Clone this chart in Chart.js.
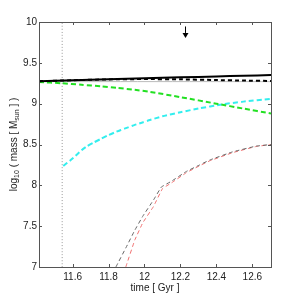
<!DOCTYPE html>
<html>
<head>
<meta charset="utf-8">
<script src="https://cdn.jsdelivr.net/npm/chart.js@4/dist/chart.umd.min.js"></script>
<style>
  body { margin: 0; background: #fff; }
</style>
</head>
<body>
<canvas id="mass-canvas" width="300" height="300"></canvas>
<script>
const xTicks = [11.6, 11.8, 12, 12.2, 12.4, 12.6];
const yTicks = [7, 7.5, 8, 8.5, 9, 9.5, 10];

const blackT = [11.413, 11.6, 11.8, 12.0, 12.2, 12.4, 12.55, 12.704];
const blackSolid = [9.275, 9.287, 9.298, 9.31, 9.322, 9.333, 9.342, 9.35];
const blackDashed = [9.275, 9.287, 9.297, 9.301, 9.298, 9.289, 9.283, 9.278];

const greenT = [11.413, 11.54, 11.65, 11.76, 11.85, 11.946, 12.03, 12.2, 12.4, 12.55, 12.704];
const greenM = [9.265, 9.25, 9.232, 9.212, 9.193, 9.17, 9.145, 9.08, 9.0, 8.94, 8.88];

const cyanT = [11.548, 11.585, 11.617, 11.65, 11.681, 11.718, 11.756, 11.794, 11.831, 11.868,
               11.909, 11.946, 11.989, 12.03, 12.1, 12.2, 12.3, 12.43, 12.55, 12.704];
const cyanM = [8.237, 8.302, 8.363, 8.43, 8.48, 8.525, 8.567, 8.61, 8.645, 8.678,
               8.71, 8.74, 8.77, 8.80, 8.845, 8.895, 8.94, 8.99, 9.025, 9.06];

const grayT = [11.841, 11.9, 11.946, 11.99, 12.05, 12.094, 12.15, 12.233, 12.307, 12.363, 12.49, 12.62, 12.704];
const grayM = [7.0, 7.25, 7.45, 7.62, 7.82, 7.98, 8.05, 8.17, 8.25, 8.31, 8.41, 8.48, 8.50];

const redT = [11.896, 11.946, 11.99, 12.05, 12.1, 12.15, 12.233, 12.307, 12.363, 12.49, 12.62, 12.704];
const redM = [7.0, 7.33, 7.54, 7.74, 7.96, 8.03, 8.155, 8.24, 8.30, 8.40, 8.475, 8.50];

const refLevel = 9.27;
const markerT = 11.542;
const arrowT = 12.225;
const arrowTop = 9.945;
const arrowTip = 9.805;

const xMin = 11.413, xMax = 12.704;

const pts = (ts, ms) => ts.map((t, i) => ({x: t, y: ms[i]}));

const FONT = "'Liberation Sans', Arial, sans-serif";

// frame, inside ticks, axis titles and the arrow
const decorations = {
    id: 'decorations',
    afterDraw(chart) {
        const {ctx, chartArea: a, scales: {x, y}} = chart;
        ctx.save();
        ctx.strokeStyle = '#555';
        ctx.lineWidth = 1;
        ctx.strokeRect(Math.round(a.left) + 0.5, Math.round(a.top) + 0.5,
            Math.round(a.right - a.left), Math.round(a.bottom - a.top));

        ctx.beginPath();
        x.ticks.forEach(t => {
            const px = Math.round(x.getPixelForValue(t.value)) + 0.5;
            ctx.moveTo(px, a.bottom); ctx.lineTo(px, a.bottom - 3);
            ctx.moveTo(px, a.top); ctx.lineTo(px, a.top + 3);
        });
        y.ticks.forEach(t => {
            const py = Math.round(y.getPixelForValue(t.value)) + 0.5;
            ctx.moveTo(a.left, py); ctx.lineTo(a.left + 3, py);
            ctx.moveTo(a.right, py); ctx.lineTo(a.right - 3, py);
        });
        ctx.stroke();

        // arrow
        const ax = Math.round(x.getPixelForValue(arrowT)) + 0.5;
        const y0 = y.getPixelForValue(arrowTop);
        const y1 = y.getPixelForValue(arrowTip);
        ctx.strokeStyle = '#000';
        ctx.beginPath();
        ctx.moveTo(ax, y0); ctx.lineTo(ax, y1 - 5);
        ctx.stroke();
        ctx.fillStyle = '#000';
        ctx.beginPath();
        ctx.moveTo(ax - 3, y1 - 5); ctx.lineTo(ax + 3, y1 - 5); ctx.lineTo(ax, y1);
        ctx.closePath();
        ctx.fill();

        // x title
        ctx.fillStyle = '#222';
        ctx.font = '10px ' + FONT;
        ctx.textAlign = 'center';
        ctx.textBaseline = 'middle';
        ctx.fillText('time [ Gyr ]', (a.left + a.right) / 2, 288);

        // y title with subscripts
        const parts = [
            ['log', false], ['10', true], [' ( mass [ M', false], ['sun', true], [' ] )', false]
        ];
        const fontFor = sub => (sub ? '7px ' : '10px ') + FONT;
        let total = 0;
        parts.forEach(([s, sub]) => { ctx.font = fontFor(sub); total += ctx.measureText(s).width; });
        ctx.translate(14, (a.top + a.bottom) / 2);
        ctx.rotate(-Math.PI / 2);
        ctx.textAlign = 'left';
        let cx = -total / 2;
        parts.forEach(([s, sub]) => {
            ctx.font = fontFor(sub);
            ctx.fillText(s, cx, sub ? 3 : 0);
            cx += ctx.measureText(s).width;
        });
        ctx.restore();
    }
};

new Chart(document.querySelector('#mass-canvas'), {
    type: 'line',
    data: {
        datasets: [
            {data: pts(blackT, blackSolid), borderColor: '#000', borderWidth: 2},
            {data: pts(blackT, blackDashed), borderColor: '#000', borderWidth: 2, borderDash: [4, 3]},
            {data: pts(greenT, greenM), borderColor: '#22e022', borderWidth: 2, borderDash: [5, 3]},
            {data: pts(cyanT, cyanM), borderColor: '#33eeee', borderWidth: 2, borderDash: [5, 3]},
            {data: pts(grayT, grayM), borderColor: '#666', borderWidth: 1, borderDash: [4, 3], tension: 0.05},
            {data: pts(redT, redM), borderColor: '#f07070', borderWidth: 1, borderDash: [4, 3], tension: 0.05},
            {data: pts([xMin, xMax], [refLevel, refLevel]), borderColor: '#bbb', borderWidth: 1},
            {data: pts([markerT, markerT], [7, 10]), borderColor: '#999', borderWidth: 1, borderDash: [1, 2]},
        ]
    },
    options: {
        responsive: false,
        animation: false,
        clip: true,
        elements: {
            point: {radius: 0},
            line: {tension: 0.2, fill: false}
        },
        layout: {padding: {top: 22, right: 29, left: 0, bottom: 0}},
        plugins: {
            legend: {display: false},
            tooltip: {enabled: false}
        },
        scales: {
            x: {
                type: 'linear',
                min: xMin,
                max: xMax,
                grid: {display: false, drawTicks: false},
                border: {display: false},
                ticks: {
                    font: {family: FONT, size: 10},
                    color: '#222',
                    padding: 4,
                    maxRotation: 0,
                    callback: v => String(v)
                },
                afterBuildTicks: s => { s.ticks = xTicks.map(v => ({value: v})); },
                afterFit: s => { s.height = 33; }
            },
            y: {
                type: 'linear',
                min: 7,
                max: 10,
                grid: {display: false, drawTicks: false},
                border: {display: false},
                ticks: {
                    font: {family: FONT, size: 10},
                    color: '#222',
                    padding: 2,
                    callback: v => String(v)
                },
                afterBuildTicks: s => { s.ticks = yTicks.map(v => ({value: v})); },
                afterFit: s => { s.width = 39; }
            }
        }
    },
    plugins: [decorations]
});
</script>
</body>
</html>
